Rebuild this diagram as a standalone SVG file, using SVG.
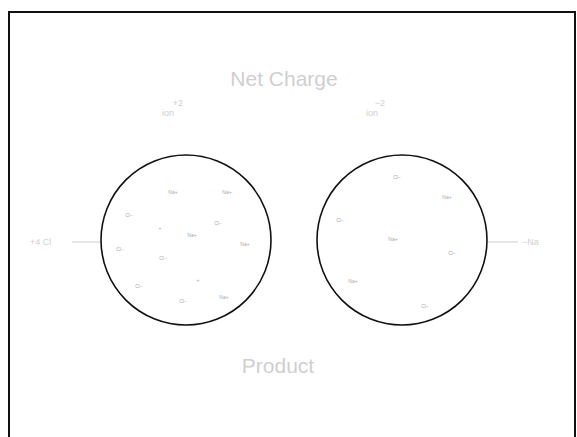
<svg xmlns="http://www.w3.org/2000/svg" width="577" height="437" viewBox="0 0 577 437">
<style>
.t{font-family:"Liberation Sans",Arial,sans-serif;fill:#cfcfcf}
.big{font-size:21px}
.mid{font-size:9px}
.sm{font-size:5px;fill:#aaa}
.c{fill:none;stroke:#111;stroke-width:1.6}
.ln{stroke:#ccc;stroke-width:1}
</style>
<rect x="0" y="0" width="577" height="437" fill="#fff"/>
<rect x="9" y="12" width="566" height="432" fill="none" stroke="#111" stroke-width="2"/>
<g id="title"><text class="t big" x="284" y="86" text-anchor="middle">Net Charge</text></g>
<g id="label-left-top"><text class="t mid" x="178" y="106" text-anchor="middle">+2</text><text class="t mid" x="168" y="116" text-anchor="middle">ion</text></g>
<g id="label-right-top"><text class="t mid" x="380" y="106" text-anchor="middle">−2</text><text class="t mid" x="372" y="116" text-anchor="middle">ion</text></g>
<g id="connectors">
<line class="ln" x1="72" y1="242" x2="100" y2="242"/>
<line class="ln" x1="488" y1="242" x2="518" y2="242"/>
</g>
<g id="label-left"><text class="t mid" x="30" y="245">+4 Cl</text></g>
<g id="label-right"><text class="t mid" x="522" y="245">−Na</text></g>
<g id="circle-left">
<circle class="c" cx="186" cy="240" r="85"/>
<text class="t sm" x="173" y="194" text-anchor="middle">Na+</text>
<text class="t sm" x="227" y="194" text-anchor="middle">Na+</text>
<text class="t sm" x="129" y="217" text-anchor="middle">Cl−</text>
<text class="t sm" x="160" y="230" text-anchor="middle">+</text>
<text class="t sm" x="218" y="225" text-anchor="middle">Cl−</text>
<text class="t sm" x="192" y="237" text-anchor="middle">Na+</text>
<text class="t sm" x="120" y="251" text-anchor="middle">Cl−</text>
<text class="t sm" x="245" y="246" text-anchor="middle">Na+</text>
<text class="t sm" x="163" y="260" text-anchor="middle">Cl−</text>
<text class="t sm" x="198" y="282" text-anchor="middle">+</text>
<text class="t sm" x="139" y="288" text-anchor="middle">Cl−</text>
<text class="t sm" x="224" y="299" text-anchor="middle">Na+</text>
<text class="t sm" x="183" y="303" text-anchor="middle">Cl−</text>
</g>
<g id="circle-right">
<circle class="c" cx="402" cy="240" r="85"/>
<text class="t sm" x="397" y="179" text-anchor="middle">Cl−</text>
<text class="t sm" x="447" y="199" text-anchor="middle">Na+</text>
<text class="t sm" x="340" y="222" text-anchor="middle">Cl−</text>
<text class="t sm" x="393" y="241" text-anchor="middle">Na+</text>
<text class="t sm" x="452" y="255" text-anchor="middle">Cl−</text>
<text class="t sm" x="353" y="283" text-anchor="middle">Na+</text>
<text class="t sm" x="425" y="308" text-anchor="middle">Cl−</text>
</g>
<g id="footer"><text class="t big" x="278" y="373" text-anchor="middle">Product</text></g>
</svg>
